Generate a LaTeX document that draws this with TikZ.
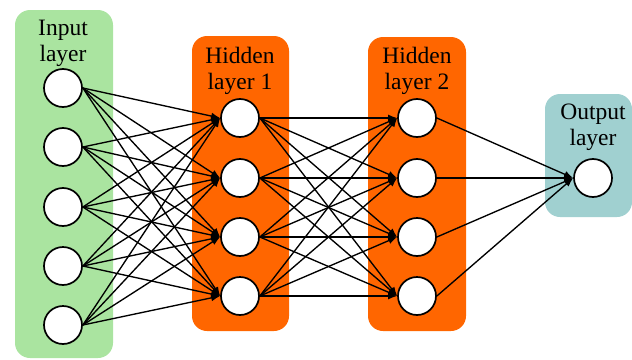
\documentclass[tikz,border=0pt]{standalone}
\usepackage{fontspec}
\setmainfont{Liberation Serif}
\usetikzlibrary{arrows.meta}
\definecolor{ingreen}{RGB}{170,228,160}
\definecolor{hidorange}{RGB}{255,102,0}
\definecolor{outteal}{RGB}{160,208,208}
\begin{document}
\begin{tikzpicture}[x=1pt,y=-1pt,
  panel/.style={rounded corners=15pt,draw=none},
  neuron/.style={circle,draw=black,line width=1.7pt,fill=white,minimum size=38pt,inner sep=0pt},
  lbl/.style={font=\fontsize{23.5}{26}\selectfont,anchor=base,inner sep=0pt},
  conn/.style={line width=1.35pt,-{Latex[length=9pt,width=7pt]}}]
\useasboundingbox (0,0) rectangle (632,359);
\fill[ingreen,panel] (15,10) rectangle (113,358);
\fill[hidorange,panel] (192,36) rectangle (289,331);
\fill[hidorange,panel] (368,37) rectangle (466,331);
\fill[outteal,panel] (545,94) rectangle (632,217);
\node[lbl] (tin1) at (63,35) {Input};
\node[lbl] (tin2) at (63,61) {layer};
\node[lbl] (th11) at (240,63) {Hidden};
\node[lbl] (th12) at (240,89) {layer 1};
\node[lbl] (th21) at (417,63) {Hidden};
\node[lbl] (th22) at (417,89) {layer 2};
\node[lbl] (to1) at (593,119) {Output};
\node[lbl] (to2) at (593,145) {layer};
\foreach \i/\y in {1/88,2/147,3/207,4/266,5/325}
  \node[neuron] (i\i) at (63,\y) {};
\foreach \i/\y in {1/118,2/178,3/237,4/296}{
  \node[neuron] (a\i) at (240,\y) {};
  \node[neuron] (b\i) at (417,\y) {};
}
\node[neuron] (o1) at (593,178) {};
\foreach \s in {1,...,5}
  \foreach \t in {1,...,4}
    \draw[conn] (i\s.east) -- (a\t.west);
\foreach \s in {1,...,4}
  \foreach \t in {1,...,4}
    \draw[conn] (a\s.east) -- (b\t.west);
\foreach \s in {1,...,4}
  \draw[conn] (b\s.east) -- (o1.west);
\end{tikzpicture}
\end{document}
